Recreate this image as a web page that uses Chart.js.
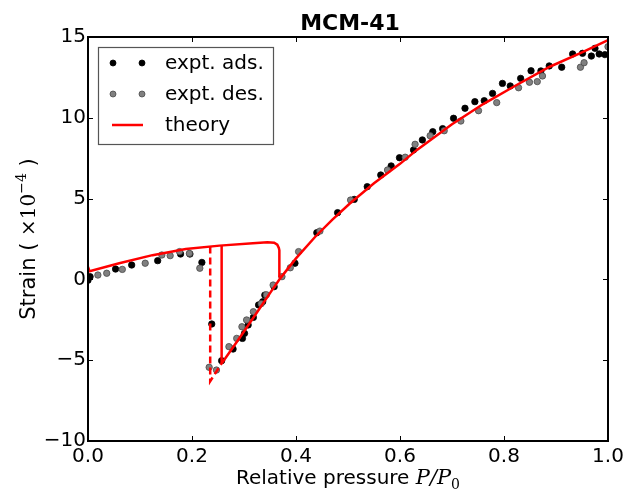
<!DOCTYPE html>
<html>
<head>
<meta charset="utf-8">
<title>MCM-41</title>
<script src="https://cdn.jsdelivr.net/npm/chart.js@4.4.1/dist/chart.umd.min.js"></script>
<style>
  html, body { margin: 0; padding: 0; background: #fff; }
  #c { display: block; }
</style>
</head>
<body>
<canvas id="c" width="641" height="489"></canvas>
<script>
// experimental adsorption (black) and desorption (gray) points
const adsP = [0.0, 0.004, 0.053, 0.084, 0.134, 0.178, 0.196, 0.219, 0.238, 0.257, 0.279, 0.297, 0.301, 0.308, 0.318, 0.328, 0.336, 0.340, 0.358, 0.398, 0.440, 0.480, 0.512, 0.537, 0.563, 0.583, 0.599, 0.626, 0.643, 0.663, 0.682, 0.703, 0.725, 0.744, 0.762, 0.778, 0.797, 0.812, 0.832, 0.852, 0.871, 0.887, 0.911, 0.932, 0.951, 0.968, 0.975, 0.983, 0.994]
const adsStrain = [-0.05, 0.17, 0.64, 0.89, 1.16, 1.57, 1.57, 1.05, -2.76, -5.03, -4.31, -3.65, -3.34, -2.82, -2.35, -1.58, -1.38, -0.97, -0.45, 1.0, 2.89, 4.13, 4.95, 5.74, 6.46, 7.02, 7.53, 8.01, 8.63, 9.14, 9.33, 9.97, 10.59, 11.0, 11.06, 11.51, 12.13, 11.97, 12.44, 12.91, 12.90, 13.21, 13.13, 13.95, 13.99, 13.82, 14.30, 13.95, 13.91]

const desP = [0.019, 0.036, 0.066, 0.110, 0.142, 0.158, 0.176, 0.195, 0.215, 0.233, 0.247, 0.271, 0.286, 0.296, 0.305, 0.318, 0.333, 0.343, 0.356, 0.373, 0.389, 0.405, 0.446, 0.505, 0.576, 0.610, 0.629, 0.658, 0.685, 0.717, 0.751, 0.786, 0.828, 0.849, 0.864, 0.874, 0.947, 0.954, 1.0]
const desStrain = [0.27, 0.38, 0.62, 1.0, 1.51, 1.47, 1.72, 1.61, 0.69, -5.44, -5.61, -4.16, -3.65, -2.93, -2.51, -2.0, -1.5, -0.95, -0.35, 0.17, 0.72, 1.72, 2.99, 4.91, 6.77, 7.56, 8.36, 8.89, 9.20, 9.80, 10.44, 10.94, 11.86, 12.20, 12.24, 12.59, 13.13, 13.41, 14.4]

// theory: film branch up to the capillary condensation jump
const theoryUpP = [0, 0.003, 0.06, 0.124, 0.188, 0.253, 0.317, 0.345, 0.358, 0.364, 0.367, 0.368, 0.368]
const theoryUpStrain = [0.78, 0.5, 1.0, 1.5, 1.88, 2.09, 2.23, 2.3, 2.27, 2.15, 1.95, 1.8, 0.12]

// theory: filled-pore branch
const theoryLowP = [0.257, 0.28, 0.30, 0.33, 0.35, 0.37, 0.40, 0.437, 0.47, 0.504, 0.55, 0.60, 0.632, 0.70, 0.76, 0.82, 0.888, 0.95, 1.0]
const theoryLowStrain = [-5.2, -4.15, -3.22, -1.8, -0.85, 0.08, 1.3, 2.64, 3.7, 4.71, 5.95, 7.15, 8.0, 9.6, 10.85, 11.95, 13.16, 14.05, 14.81]

// desorption jump (solid) and spinodal (dashed)
const jumpP = [0.257, 0.257]
const jumpStrain = [2.1, -5.2]
const spinodalP = [0.235, 0.235, 0.257]
const spinodalStrain = [2.03, -6.3, -5.2]

const xTicks = [0, 0.2, 0.4, 0.6, 0.8, 1.0]
const yTicks = [-10, -5, 0, 5, 10, 15]

const pts = (xs, ys) => xs.map((x, i) => ({ x: x, y: ys[i] }))

const SANS = "'DejaVu Sans', sans-serif"
const SERIF = "'DejaVu Serif', serif"
const RED = "#ff0000"

function theoryLine(data, dashed) {
  return {
    data: data,
    showLine: true,
    borderColor: RED,
    borderWidth: 2.5,
    borderDash: dashed ? [7, 4] : [],
    pointRadius: 0,
    fill: false,
    order: 0,
  }
}

const decorations = {
  id: "decorations",
  afterDraw(chart) {
    const ctx = chart.ctx
    const a = chart.chartArea
    const xs = chart.scales.x
    const ys = chart.scales.y
    ctx.save()

    // inward ticks on all four sides
    ctx.strokeStyle = "#000"
    ctx.lineWidth = 1
    ctx.beginPath()
    xTicks.forEach((t) => {
      const px = Math.round(xs.getPixelForValue(t)) + 0.5
      ctx.moveTo(px, a.bottom); ctx.lineTo(px, a.bottom - 5)
      ctx.moveTo(px, a.top); ctx.lineTo(px, a.top + 5)
    })
    yTicks.forEach((t) => {
      const py = Math.round(ys.getPixelForValue(t)) + 0.5
      ctx.moveTo(a.left, py); ctx.lineTo(a.left + 5, py)
      ctx.moveTo(a.right, py); ctx.lineTo(a.right - 5, py)
    })
    ctx.stroke()

    // frame
    ctx.lineWidth = 2
    ctx.strokeRect(a.left, a.top, a.right - a.left, a.bottom - a.top)

    // title
    const cx = (a.left + a.right) / 2
    ctx.fillStyle = "#000"
    ctx.textBaseline = "alphabetic"
    ctx.textAlign = "center"
    ctx.font = "bold 22px " + SANS
    ctx.fillText("MCM-41", cx + 2, 30)

    // x axis title: Relative pressure P/P0
    ctx.textAlign = "left"
    const xParts = [
      { t: "Relative pressure ", f: "20px " + SANS, dy: 0 },
      { t: "P/P", f: "italic 21px " + SERIF, dy: 0 },
      { t: "0", f: "14px " + SERIF, dy: 5 },
    ]
    drawParts(ctx, xParts, cx, 484)

    // y axis title: Strain ( x10^-4 )
    ctx.save()
    ctx.translate(35, (a.top + a.bottom) / 2)
    ctx.rotate(-Math.PI / 2)
    const yParts = [
      { t: "Strain ( ", f: "21px " + SANS, dy: 0 },
      { t: "\u00d710", f: "20px " + SERIF, dy: 0 },
      { t: "\u22124", f: "14px " + SERIF, dy: -9 },
      { t: " )", f: "21px " + SANS, dy: 0 },
    ]
    drawParts(ctx, yParts, 0, 0)
    ctx.restore()

    // legend
    const lx = a.left + 10, ly = a.top + 10, lw = 175, lh = 97
    ctx.fillStyle = "#fff"
    ctx.fillRect(lx, ly, lw, lh)
    ctx.strokeStyle = "#555"
    ctx.lineWidth = 1.2
    ctx.strokeRect(lx + 0.5, ly + 0.5, lw, lh)
    const rows = [
      { label: "expt. ads.", kind: "dot", fill: "#000", edge: "#000" },
      { label: "expt. des.", kind: "dot", fill: "#808080", edge: "#4a4a4a" },
      { label: "theory", kind: "line" },
    ]
    ctx.font = "20px " + SANS
    ctx.textBaseline = "middle"
    ctx.textAlign = "left"
    rows.forEach((r, i) => {
      const y = ly + 16 + i * 31
      if (r.kind === "dot") {
        [lx + 15, lx + 44].forEach((mx) => {
          ctx.beginPath()
          ctx.arc(mx, y, 3, 0, Math.PI * 2)
          ctx.fillStyle = r.fill
          ctx.fill()
          ctx.lineWidth = 0.8
          ctx.strokeStyle = r.edge
          ctx.stroke()
        })
      } else {
        ctx.beginPath()
        ctx.moveTo(lx + 14, y); ctx.lineTo(lx + 45, y)
        ctx.strokeStyle = RED
        ctx.lineWidth = 2.5
        ctx.stroke()
      }
      ctx.fillStyle = "#000"
      ctx.fillText(r.label, lx + 67, y + 1)
    })

    ctx.restore()
  },
}

function drawParts(ctx, parts, cx, baseY) {
  let total = 0
  parts.forEach((p) => { ctx.font = p.f; p.w = ctx.measureText(p.t).width; total += p.w })
  let x = cx - total / 2
  ctx.textAlign = "left"
  ctx.textBaseline = "alphabetic"
  parts.forEach((p) => {
    ctx.font = p.f
    ctx.fillText(p.t, x, baseY + p.dy)
    x += p.w
  })
}

const ctx = document.getElementById("c").getContext("2d")
new Chart(ctx, {
  type: "scatter",
  data: {
    datasets: [
      theoryLine(pts(theoryUpP, theoryUpStrain), false),
      theoryLine(pts(theoryLowP, theoryLowStrain), false),
      theoryLine(pts(jumpP, jumpStrain), false),
      theoryLine(pts(spinodalP, spinodalStrain), true),
      {
        label: "expt. des.",
        data: pts(desP, desStrain),
        backgroundColor: "#808080",
        borderColor: "#4a4a4a",
        borderWidth: 0.8,
        pointRadius: 3.2,
        order: 1,
      },
      {
        label: "expt. ads.",
        data: pts(adsP, adsStrain),
        backgroundColor: "#000",
        borderColor: "#000",
        borderWidth: 0.8,
        pointRadius: 3.2,
        order: 2,
      },
    ],
  },
  options: {
    responsive: false,
    animation: false,
    layout: { padding: { top: 37, right: 33, left: 0, bottom: 0 } },
    plugins: {
      legend: { display: false },
      tooltip: { enabled: false },
    },
    scales: {
      x: {
        type: "linear",
        min: 0,
        max: 1,
        afterBuildTicks: (s) => { s.ticks = xTicks.map((v) => ({ value: v })) },
        afterFit: (s) => { s.height = 48 },
        grid: { display: false, drawTicks: false },
        border: { display: false },
        ticks: {
          padding: 4,
          color: "#000",
          maxRotation: 0,
          font: { family: SANS, size: 20 },
          callback: (v) => Number(v).toFixed(1),
        },
      },
      y: {
        min: -10,
        max: 15,
        afterBuildTicks: (s) => { s.ticks = yTicks.map((v) => ({ value: v })) },
        afterFit: (s) => { s.width = 88 },
        grid: { display: false, drawTicks: false },
        border: { display: false },
        ticks: {
          padding: 2,
          color: "#000",
          font: { family: SANS, size: 20 },
          callback: (v) => String(v).replace("-", "\u2212"),
        },
      },
    },
  },
  plugins: [decorations],
})
</script>
</body>
</html>
